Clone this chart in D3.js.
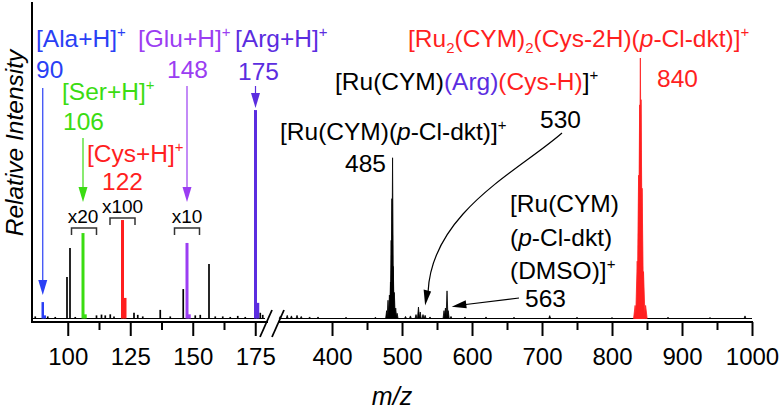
<!DOCTYPE html>
<html>
<head>
<meta charset="utf-8">
<script src="https://cdn.jsdelivr.net/npm/d3@7"></script>
<style>
body { margin: 0; background: #fff; }
svg { display: block; font-family: "Liberation Sans", Arial, sans-serif; }
</style>
</head>
<body>
<script>
// ticks of the two axis segments
var lowTicks = [100, 125, 150, 175];
var lowMinor = [112.5, 137.5, 162.5];
var highTicks = [400, 500, 600, 700, 800, 900, 1000];
var highMinor = [450, 550, 650, 750, 850, 950];

// peaks as [m/z, relative intensity %]
var blackLow = [[87, 0.8], [92, 0.8], [95, 0.6], [99.7, 15.9], [100.9, 27.1], [103, 0.6],
  [111.5, 1.2], [113.5, 1.5], [115, 1.2], [117, 1.6], [118.5, 0.8], [126.5, 2.2], [128, 1.4],
  [130, 0.8], [137, 3.3], [141, 0.8], [146.2, 11.3], [151, 1.2], [153, 1.4], [156.5, 20.9],
  [159, 0.8], [162, 0.8], [165, 0.6], [168, 1], [171, 0.6], [177, 2.2], [178, 1.4]];
var alaPeaks = [[90, 6.3], [90.8, 1.2]];
var serPeaks = [[106.1, 32.8], [107, 1.6]];
var cysPeaks = [[121.9, 37.8], [122.9, 7.9]];
var gluPeaks = [[147.7, 29], [148.6, 1.6]];
var argPeaks = [[175.1, 80], [176, 6]];

var blackHigh = [[326, 0.8], [336, 1.2], [342, 1], [350, 1.2], [356, 0.8], [368, 0.6], [380, 0.6],
  [420, 0.5], [462, 0.5], [478, 3], [480, 7], [482, 9], [483.5, 14], [484.5, 30], [485.5, 46],
  [486.5, 61.7], [487.5, 20], [489, 10], [491, 4], [493, 2], [505, 0.8], [512, 1], [520, 1.5],
  [523.5, 4.4], [526, 2.5], [530, 1.5], [533, 1.2], [540, 0.6], [560, 3], [562, 4], [564.3, 10.6],
  [566, 3], [570, 0.8], [590, 0.6], [620, 0.6], [660, 0.5], [711, 1.1], [750, 0.5], [800, 0.4],
  [880, 0.5], [940, 0.4], [990, 1]];
var dimerPeaks = [[833, 5], [836, 22], [838, 55], [839.5, 82], [840.5, 100], [841.5, 84], [843, 50],
  [845, 18], [848, 5]];

var col = {ala: '#2a3ff5', ser: '#3bdc12', cys: '#ff1f1f', glu: '#9b3df2', arg: '#5b2de0'};

var W = 783, H = 410;
var svg = d3.select('body').append('svg').attr('width', W).attr('height', H);

var xLow = d3.scaleLinear().domain([85.7, 178.1]).range([32, 263]);
var xHigh = d3.scaleLinear().domain([321.4, 1000]).range([277, 752]);
var y = d3.scaleLinear().domain([0, 100]).range([318.5, 58]);
var axisY = 322;

// ---- axes
function addAxis(scale, ticks, size, labels) {
  var ax = d3.axisBottom(scale).tickValues(ticks).tickSize(size).tickPadding(12)
    .tickFormat(labels ? d3.format('d') : function() { return ''; });
  var g = svg.append('g').attr('transform', 'translate(0,' + axisY + ')').call(ax);
  g.select('.domain').remove();
  g.attr('font-size', 24).attr('font-family', null);
  g.selectAll('line').attr('stroke-width', 2);
}
addAxis(xLow, lowTicks, 14, true);
addAxis(xLow, lowMinor, 8, false);
addAxis(xHigh, highTicks, 14, true);
addAxis(xHigh, highMinor, 8, false);

svg.append('line').attr('x1', 31).attr('x2', 268).attr('y1', axisY).attr('y2', axisY)
  .attr('stroke', '#000').attr('stroke-width', 2);
svg.append('line').attr('x1', 278).attr('x2', 753).attr('y1', axisY).attr('y2', axisY)
  .attr('stroke', '#000').attr('stroke-width', 2);
svg.append('line').attr('x1', 32).attr('x2', 32).attr('y1', 2).attr('y2', axisY + 1)
  .attr('stroke', '#000').attr('stroke-width', 2);

// axis break
[[260, 272], [272, 284]].forEach(function(b) {
  svg.append('line').attr('x1', b[0]).attr('y1', 337).attr('x2', b[1]).attr('y2', 310)
    .attr('stroke', '#000').attr('stroke-width', 1.8);
});

// ---- spectrum
svg.append('line').attr('x1', xLow(85.7)).attr('x2', 265).attr('y1', y(0)).attr('y2', y(0))
  .attr('stroke', '#000').attr('stroke-width', 1);
svg.append('line').attr('x1', 280).attr('x2', xHigh(1000)).attr('y1', y(0)).attr('y2', y(0))
  .attr('stroke', '#000').attr('stroke-width', 1);

function sticks(data, scale, color, width) {
  svg.append('g').selectAll('line').data(data).enter().append('line')
    .attr('x1', function(d) { return scale(d[0]); })
    .attr('x2', function(d) { return scale(d[0]); })
    .attr('y1', y(0))
    .attr('y2', function(d) { return y(d[1]); })
    .attr('stroke', color).attr('stroke-width', width);
}
function spikes(data, scale, color, hw) {
  svg.append('g').selectAll('path').data(data).enter().append('path')
    .attr('d', function(d) {
      return 'M' + scale(d[0] - hw) + ',' + y(0) + 'L' + scale(d[0]) + ',' + y(d[1]) +
        'L' + scale(d[0] + hw) + ',' + y(0) + 'Z';
    })
    .attr('fill', color).attr('stroke', color).attr('stroke-width', 0.8)
    .attr('stroke-linejoin', 'round');
}
sticks(blackLow, xLow, '#000', 1.7);
sticks(alaPeaks, xLow, col.ala, 2.5);
sticks(serPeaks, xLow, col.ser, 3);
sticks(cysPeaks, xLow, col.cys, 3);
sticks(gluPeaks, xLow, col.glu, 3);
sticks(argPeaks, xLow, col.arg, 3);
spikes(blackHigh, xHigh, '#000', 1.4);
spikes(dimerPeaks, xHigh, col.cys, 2.2);

// ---- text helpers
function rich(x, yy, parts, size, anchor) {
  var t = svg.append('text').attr('x', x).attr('y', yy).style('font-size', size + 'px')
    .attr('text-anchor', anchor || 'start');
  var shift = 0;
  parts.forEach(function(p) {
    if (typeof p === 'string') p = {t: p};
    var target = p.sup ? -10 : (p.sub ? 6 : 0);
    var s = t.append('tspan').text(p.t).attr('fill', p.c || '#000').attr('dy', target - shift);
    shift = target;
    if (p.sup || p.sub) s.style('font-size', Math.round(size * 0.62) + 'px');
    if (p.it) s.style('font-style', 'italic');
  });
  return t;
}
function arrowDown(x, y0, tip, color) {
  svg.append('line').attr('x1', x).attr('x2', x).attr('y1', y0).attr('y2', tip - 12)
    .attr('stroke', color).attr('stroke-width', 1.2);
  svg.append('path').attr('d', 'M' + (x - 4.5) + ',' + (tip - 15) + 'L' + (x + 4.5) + ',' + (tip - 15) +
    'L' + x + ',' + tip + 'Z').attr('fill', color);
}
function bracket(cx, top) {
  svg.append('path').attr('d', 'M' + (cx - 12.5) + ',' + (top + 7) + 'V' + top + 'H' + (cx + 12.5) + 'V' + (top + 7))
    .attr('fill', 'none').attr('stroke', '#333').attr('stroke-width', 1.5);
}

var fs = 24.5;
// amino acid labels
rich(36, 47, [{t: '[Ala+H]', c: col.ala}, {t: '+', c: col.ala, sup: true}], fs);
rich(36, 78, [{t: '90', c: col.ala}], fs);
rich(62, 100, [{t: '[Ser+H]', c: col.ser}, {t: '+', c: col.ser, sup: true}], fs);
rich(63, 130, [{t: '106', c: col.ser}], fs);
rich(87, 162, [{t: '[Cys+H]', c: col.cys}, {t: '+', c: col.cys, sup: true}], fs);
rich(102, 190, [{t: '122', c: col.cys}], fs);
rich(138, 47, [{t: '[Glu+H]', c: col.glu}, {t: '+', c: col.glu, sup: true}], fs);
rich(167, 78, [{t: '148', c: col.glu}], fs);
rich(235, 47, [{t: '[Arg+H]', c: col.arg}, {t: '+', c: col.arg, sup: true}], fs);
rich(238, 80, [{t: '175', c: col.arg}], fs);

arrowDown(xLow(90), 88, 295, col.ala);
arrowDown(xLow(106.1), 138, 202, col.ser);
arrowDown(xLow(147.7), 86, 202, col.glu);
arrowDown(xLow(175.1), 86, 108, col.arg);

// magnification marks
rich(xLow(106.1), 223, ['x20'], 19, 'middle');
bracket(xLow(106.1) + 1, 228);
rich(xLow(121.9), 213, ['x100'], 19, 'middle');
bracket(xLow(121.9), 218);
rich(xLow(147.7), 223, ['x10'], 19, 'middle');
bracket(xLow(147.7), 228);

// complex labels
rich(408, 47, [{t: '[Ru', c: col.cys}, {t: '2', c: col.cys, sub: true}, {t: '(CYM)', c: col.cys},
  {t: '2', c: col.cys, sub: true}, {t: '(Cys-2H)(', c: col.cys}, {t: 'p', c: col.cys, it: true},
  {t: '-Cl-dkt)]', c: col.cys}, {t: '+', c: col.cys, sup: true}], fs);
rich(657, 87, [{t: '840', c: col.cys}], fs);

rich(335, 90, ['[Ru(CYM)', {t: '(Arg)', c: col.arg}, {t: '(Cys-H)', c: col.cys}, ']', {t: '+', sup: true}], fs);
rich(540, 128, ['530'], fs);

rich(280, 140, ['[Ru(CYM)(', {t: 'p', it: true}, '-Cl-dkt)]', {t: '+', sup: true}], fs);
rich(345, 172, ['485'], fs);

rich(510, 212, ['[Ru(CYM)'], fs);
rich(510, 246, ['(', {t: 'p', it: true}, '-Cl-dkt)'], fs);
rich(510, 279, ['(DMSO)]', {t: '+', sup: true}], fs);
rich(525, 307, ['563'], fs);

// arrow to 563
var t563 = [xHigh(571), y(4.5)];
svg.append('line').attr('x1', 519).attr('y1', 298).attr('x2', t563[0] + 12).attr('y2', t563[1] - 2)
  .attr('stroke', '#000').attr('stroke-width', 1.2);
svg.append('path').attr('d', 'M' + t563[0] + ',' + t563[1] + 'L' + (t563[0] + 14) + ',' + (t563[1] - 6.5) +
  'L' + (t563[0] + 15) + ',' + (t563[1] + 1.5) + 'Z').attr('fill', '#000');

// curved arrow to 530
var t530 = [xHigh(533), y(5)];
svg.append('path')
  .attr('d', 'M562,133C520,170 432,212 ' + (t530[0] + 3) + ',' + (t530[1] - 14))
  .attr('fill', 'none').attr('stroke', '#000').attr('stroke-width', 1.2);
svg.append('path').attr('d', 'M' + t530[0] + ',' + t530[1] + 'L' + (t530[0] - 1.5) + ',' + (t530[1] - 16) +
  'L' + (t530[0] + 6) + ',' + (t530[1] - 14) + 'Z').attr('fill', '#000');

// axis titles
svg.append('text').attr('transform', 'translate(23,143) rotate(-90)').attr('text-anchor', 'middle')
  .style('font-size', '24.5px').style('font-style', 'italic').text('Relative Intensity');
svg.append('text').attr('x', 392).attr('y', 405).attr('text-anchor', 'middle')
  .style('font-size', '25px').style('font-style', 'italic').text('m/z');
</script>
</body>
</html>
